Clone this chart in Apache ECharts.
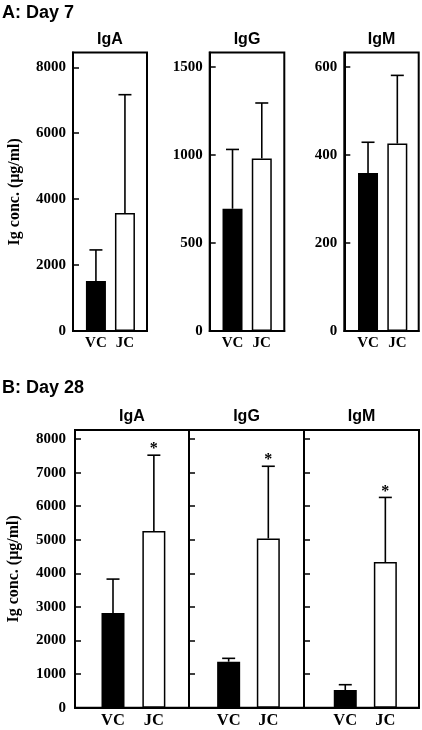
<!DOCTYPE html>
<html><head><meta charset="utf-8">
<script src="https://cdn.jsdelivr.net/npm/echarts@6/dist/echarts.min.js"></script>
<style>html,body{margin:0;padding:0;background:#fff}#c{width:422px;height:730px}</style>
</head><body><div id="c"></div>
<script>
// ---- data ----
const groups = ['VC', 'JC'];
const isotypes = ['IgA', 'IgG', 'IgM'];
// Day 7: means and upper end of error bar (mean + SD)
const d7IgAMean = [1520, 3580];
const d7IgAUpper = [2460, 7170];
const d7IgGMean = [695, 981];
const d7IgGUpper = [1032, 1296];
const d7IgMMean = [359, 426];
const d7IgMUpper = [429, 581];
// Day 28
const d28IgAMean = [2820, 5260];
const d28IgAUpper = [3830, 7520];
const d28IgGMean = [1370, 5040];
const d28IgGUpper = [1470, 7190];
const d28IgMMean = [527, 4336];
const d28IgMUpper = [685, 6262];
const d28Star = ['', '*'];
const d7Star = ['', ''];
// tick labels
const d7IgATicks = [0, 2000, 4000, 6000, 8000];
const d7IgGTicks = [0, 500, 1000, 1500];
const d7IgMTicks = [0, 200, 400, 600];
const d28Ticks = [0, 1000, 2000, 3000, 4000, 5000, 6000, 7000, 8000];

// ---- layout ----
const SERIF = '"Liberation Serif","Times New Roman",serif';
const SANS = '"Liberation Sans",Arial,sans-serif';
const panels = [
  {mean: d7IgAMean, upper: d7IgAUpper, star: d7Star, ticks: d7IgATicks, ymax: 8450, left: 73, top: 52.5, width: 74, height: 278.5, xmin: -0.79, xmax: 1.76, barW: 20, labels: true, name: true, xfs: 15, nameGap: 50, lm: 7},
  {mean: d7IgGMean, upper: d7IgGUpper, star: d7Star, ticks: d7IgGTicks, ymax: 1583, left: 209.7, top: 52.5, width: 74.6, height: 278.5, xmin: -0.78, xmax: 1.77, barW: 20, labels: true, name: false, xfs: 15, lm: 7},
  {mean: d7IgMMean, upper: d7IgMUpper, star: d7Star, ticks: d7IgMTicks, ymax: 633, left: 344.3, top: 52.5, width: 74.4, height: 278.5, xmin: -0.81, xmax: 1.73, barW: 20, labels: true, name: false, xfs: 15, lm: 7},
  {mean: d28IgAMean, upper: d28IgAUpper, star: d28Star, ticks: d28Ticks, ymax: 8270, left: 75, top: 430, width: 114, height: 277.7, xmin: -0.93, xmax: 1.86, barW: 23, labels: true, name: true, xfs: 16.5, nameGap: 53, lm: 9},
  {mean: d28IgGMean, upper: d28IgGUpper, star: d28Star, ticks: d28Ticks, ymax: 8270, left: 189, top: 430, width: 115, height: 277.7, xmin: -1.0, xmax: 1.9, barW: 23, labels: false, name: false, xfs: 16.5},
  {mean: d28IgMMean, upper: d28IgMUpper, star: d28Star, ticks: d28Ticks, ymax: 8270, left: 304, top: 430, width: 115, height: 277.7, xmin: -1.03, xmax: 1.84, barW: 23, labels: false, name: false, xfs: 16.5}
];

const grid = [], xAxis = [], yAxis = [], series = [];
panels.forEach((p, i) => {
  grid.push({left: p.left, top: p.top, width: p.width, height: p.height, show: true,
    borderColor: '#000', borderWidth: 2, backgroundColor: 'transparent'});
  xAxis.push({gridIndex: i, type: 'value', min: p.xmin, max: p.xmax,
    axisLine: {show: true, onZero: false, lineStyle: {color: '#000', width: 2}},
    axisTick: {show: false}, splitLine: {show: false},
    axisLabel: {customValues: [0, 1], formatter: v => groups[Math.round(v)] || '',
      fontFamily: SERIF, fontWeight: 'bold', fontSize: p.xfs, color: '#000', margin: 5}});
  yAxis.push({gridIndex: i, type: 'value', min: 0, max: p.ymax,
    axisLine: {show: true, onZero: false, lineStyle: {color: '#000', width: 2}},
    axisTick: {show: true, inside: true, length: 6, customValues: p.ticks, lineStyle: {color: '#000', width: 1.5}},
    splitLine: {show: false},
    axisLabel: {show: true, customValues: p.ticks, formatter: v => p.labels ? String(v) : '',
      fontFamily: SERIF, fontWeight: 'bold', fontSize: 15, color: '#000', margin: p.lm || 7},
    name: p.name ? 'Ig conc. (μg/ml)' : '', nameLocation: 'middle', nameGap: p.nameGap || 50, nameRotate: 90,
    nameTextStyle: {fontFamily: SERIF, fontWeight: 'bold', fontSize: 16, color: '#000'}});
  series.push({type: 'bar', xAxisIndex: i, yAxisIndex: i, barWidth: p.barW, silent: true,
    itemStyle: {borderColor: '#000', borderWidth: 1.5},
    data: p.mean.map((v, k) => ({value: [k, v], itemStyle: {color: k === 0 ? '#000' : '#fff'}}))});
  series.push({type: 'custom', xAxisIndex: i, yAxisIndex: i, silent: true, z: 1,
    data: p.mean.map((v, k) => [k, v, p.upper[k]]),
    renderItem: (params, api) => {
      const k = api.value(0);
      const p0 = api.coord([k, api.value(1)]);
      const p1 = api.coord([k, api.value(2)]);
      const cap = 6.5;
      const st = {stroke: '#000', lineWidth: 1.6};
      const children = [
        {type: 'line', shape: {x1: p0[0], y1: p0[1], x2: p1[0], y2: p1[1]}, style: st},
        {type: 'line', shape: {x1: p1[0] - cap, y1: p1[1], x2: p1[0] + cap, y2: p1[1]}, style: st}
      ];
      const s = p.star[params.dataIndex];
      if (s) {
        children.push({type: 'text', x: p1[0], y: p1[1] - 6,
          style: {text: s, textAlign: 'center', textVerticalAlign: 'middle',
            font: 'bold 16px ' + SERIF, fill: '#000'}});
      }
      return {type: 'group', children};
    }});
});

const graphic = [
  {type: 'text', x: 2, y: 22, style: {text: 'A: Day 7', textAlign: 'left', textVerticalAlign: 'bottom', font: 'bold 18px ' + SANS, fill: '#000'}},
  {type: 'text', x: 2, y: 397, style: {text: 'B: Day 28', textAlign: 'left', textVerticalAlign: 'bottom', font: 'bold 18px ' + SANS, fill: '#000'}}
];
panels.forEach((p, i) => {
  const y = i < 3 ? 47.5 : 425;
  graphic.push({type: 'text', x: p.left + p.width / 2, y: y,
    style: {text: isotypes[i % 3], textAlign: 'center', textVerticalAlign: 'bottom', font: 'bold 16px ' + SANS, fill: '#000'}});
});

const chart = echarts.init(document.getElementById('c'), null, {renderer: 'canvas'});
chart.setOption({animation: false, backgroundColor: '#fff', grid, xAxis, yAxis, series, graphic});
</script>
</body></html>
